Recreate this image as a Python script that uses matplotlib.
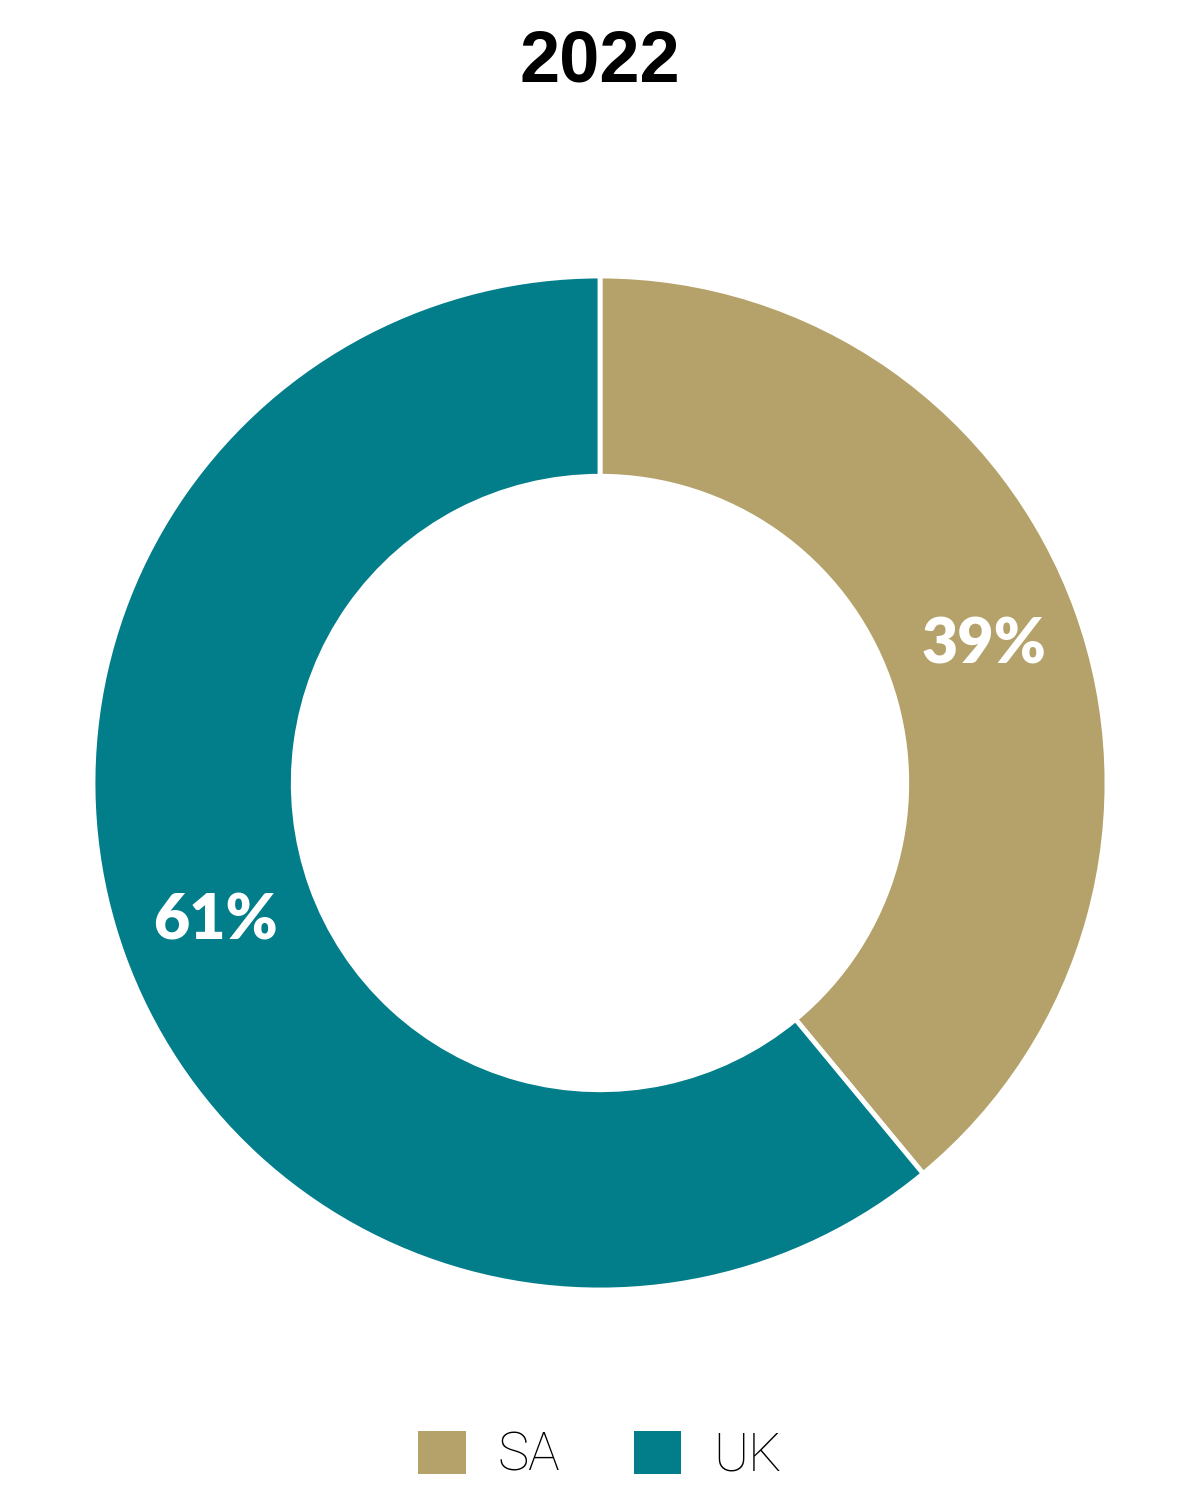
import matplotlib
matplotlib.use('Agg')
import matplotlib.pyplot as plt
from matplotlib.patches import Patch

# data
labels = ['SA', 'UK']
values = [39, 61]
colors = ['#B5A26A', '#027D8A']
title = '2022'

fig = plt.figure(figsize=(12, 15), dpi=100)
ax = fig.add_axes([93 / 1200, 210 / 1500, 1014 / 1200, 1014 / 1500])

wedges, texts, autotexts = ax.pie(values, colors=colors, startangle=90,
                                  counterclock=False, radius=1.0,
                                  autopct='%d%%', pctdistance=0.805,
                                  wedgeprops=dict(width=0.395, edgecolor='white', linewidth=3.5),
                                  textprops=dict(color='white', fontsize=45,
                                                 fontweight='heavy', family='Lato'))
ax.set_xlim(-1, 1)
ax.set_ylim(-1, 1)
ax.set_aspect('equal')
ax.axis('off')

fig.text(0.5, 1 - 62 / 1500, title, ha='center', va='center',
         fontsize=52, fontweight='bold', family='Liberation Sans')

handles = [Patch(facecolor=c, edgecolor='none') for c in colors]
fig.legend(handles, labels, loc='center', bbox_to_anchor=(0.5, 1 - 1456 / 1500),
           ncol=2, frameon=False, handlelength=0.9, handleheight=0.9,
           handletextpad=0.6, columnspacing=1.4, labelcolor='black',
           prop=dict(family='Roboto', weight='light', size=38))

fig.savefig('out.png', dpi=100, facecolor='white')
